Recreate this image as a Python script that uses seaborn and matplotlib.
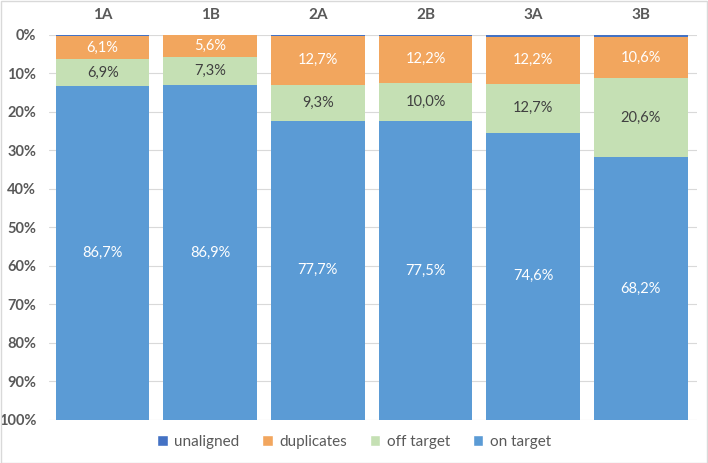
import numpy as np
import pandas as pd
import seaborn as sns
import matplotlib.pyplot as plt
from matplotlib.patches import Patch, Rectangle

samples = ["1A", "1B", "2A", "2B", "3A", "3B"]
unaligned = [0.3, 0.2, 0.3, 0.3, 0.5, 0.6]
duplicates = [6.1, 5.6, 12.7, 12.2, 12.2, 10.6]
off_target = [6.9, 7.3, 9.3, 10.0, 12.7, 20.6]
on_target = [86.7, 86.9, 77.7, 77.5, 74.6, 68.2]

series = ["unaligned", "duplicates", "off target", "on target"]
colors = ["#4472C4", "#F2A65E", "#C5E0B4", "#5B9BD5"]
label_colors = [None, "white", "#404040", "white"]

df = pd.DataFrame({"sample": samples, "unaligned": unaligned,
                   "duplicates": duplicates, "off target": off_target,
                   "on target": on_target})

sns.set_theme(style="white")
plt.rcParams["font.family"] = ["Lato", "DejaVu Sans"]

fig = plt.figure(figsize=(7.08, 4.63), dpi=100)
ax = fig.add_axes([0.069, 0.093, 0.915, 0.832])

# cumulative bars drawn from the largest down (stacked from the top)
cum = df[series].cumsum(axis=1)
for i in range(len(series) - 1, -1, -1):
    sns.barplot(x=df["sample"], y=cum[series[i]], color=colors[i],
                saturation=1, width=0.87, linewidth=0, ax=ax, zorder=2)

# segment labels
for i, s in enumerate(series):
    if label_colors[i] is None:
        continue
    mids = cum[s] - df[s] / 2
    for j, (v, m) in enumerate(zip(df[s], mids)):
        ax.text(j, m, f"{v:.1f}%".replace(".", ","), ha="center", va="center",
                color=label_colors[i], fontsize=10.5, zorder=3)

ax.set_ylim(100, 0)
ax.set_xlim(-0.5, len(samples) - 0.5 + 0.02)
ax.set_yticks(np.arange(0, 101, 10))
ax.set_yticklabels([f"{t}%" for t in range(0, 101, 10)], fontweight="bold",
                   color="#595959", fontsize=10.5)
ax.xaxis.tick_top()
ax.set_xticks(range(len(samples)))
ax.set_xticklabels(samples, fontweight="bold", color="#595959", fontsize=11)
ax.tick_params(axis="both", length=0, pad=9)
ax.set_xlabel("")
ax.set_ylabel("")
ax.grid(axis="y", color="#D9D9D9", linewidth=0.8, zorder=0)
ax.set_axisbelow(True)
for sp in ax.spines.values():
    sp.set_visible(False)

handles = [Patch(facecolor=c, label=s) for s, c in zip(series, colors)]
leg = fig.legend(handles=handles, loc="center", bbox_to_anchor=(0.5, 0.045),
                 ncol=4, frameon=False, fontsize=11, handlelength=0.7,
                 handleheight=0.7, columnspacing=1.5, handletextpad=0.4)
for t in leg.get_texts():
    t.set_color("#595959")

fig.patches.append(Rectangle((0.001, 0.001), 0.997, 0.997, transform=fig.transFigure,
                             fill=False, edgecolor="#D9D9D9", linewidth=1))

fig.savefig("out.png", dpi=100)
